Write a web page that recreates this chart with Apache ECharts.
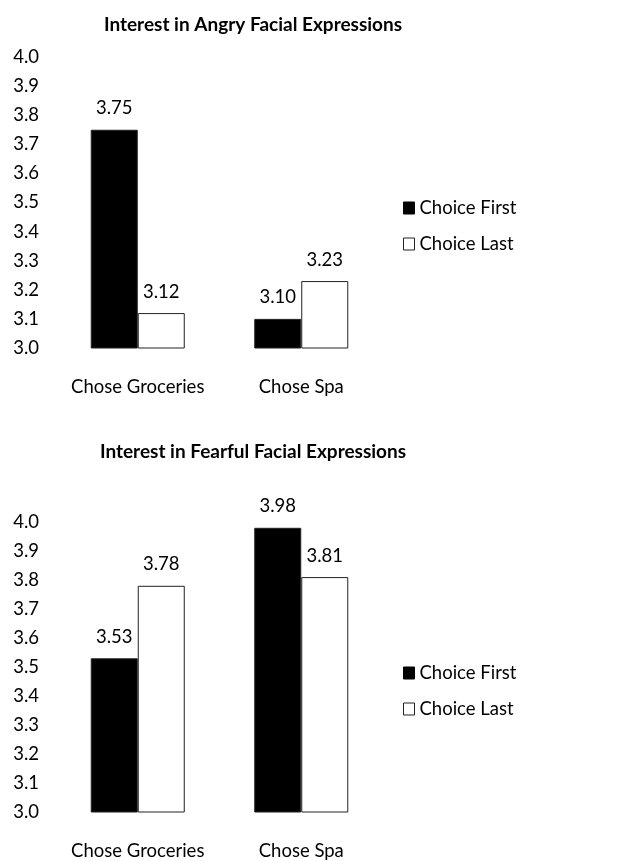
<!DOCTYPE html>
<html>
<head>
<meta charset="utf-8">
<script src="https://cdn.jsdelivr.net/npm/echarts@6/dist/echarts.min.js"></script>
<style>
html,body{margin:0;padding:0;background:#fff;}
#chart{width:625px;height:861px;}
</style>
</head>
<body>
<div id="chart"></div>
<script>
var categories = ['Chose Groceries', 'Chose Spa'];
var seriesNames = ['Choice First', 'Choice Last'];
var titles = ['Interest in Angry Facial Expressions', 'Interest in Fearful Facial Expressions'];
var angryFirst = [3.75, 3.10];
var angryLast = [3.12, 3.23];
var fearFirst = [3.53, 3.98];
var fearLast = [3.78, 3.81];
var yMin = 3.0, yMax = 4.0, yStep = 0.1;

var FONT = 'Lato';
var FS = 18.5;
var chart = echarts.init(document.getElementById('chart'), null, {renderer: 'canvas'});

var grids = [
  {left: 56, width: 327, top: 57, height: 291},
  {left: 56, width: 327, top: 522, height: 291}
];
var titleTops = [10, 437];
var legendTops = [198, 663];

function yAxis(i) {
  return {
    type: 'value', gridIndex: i, min: yMin, max: yMax, interval: yStep,
    axisLine: {show: false}, axisTick: {show: false}, splitLine: {show: false},
    axisLabel: {margin: 17, color: '#000', fontFamily: FONT, fontSize: FS,
      formatter: function (v) { return v.toFixed(1); }}
  };
}
function xAxis(i) {
  return {
    type: 'category', gridIndex: i, data: categories,
    axisLine: {show: false}, axisTick: {show: false},
    axisLabel: {interval: 0, margin: 30, color: '#000', fontFamily: FONT, fontSize: FS}
  };
}
function bar(name, data, i, fill) {
  return {
    name: name, type: 'bar', xAxisIndex: i, yAxisIndex: i, data: data,
    barGap: '0%', barCategoryGap: '42.5%',
    itemStyle: {color: fill, borderColor: '#222', borderWidth: 1},
    label: {show: true, position: 'top', distance: 12, color: '#000',
      fontFamily: FONT, fontSize: FS,
      formatter: function (p) { return p.value.toFixed(2); }}
  };
}
function legend(i) {
  return {
    orient: 'vertical', left: 403, top: legendTops[i], padding: 0,
    itemWidth: 11, itemHeight: 12, itemGap: 16,
    icon: 'rect', data: [
      {name: seriesNames[0], itemStyle: {color: '#000', borderColor: '#000', borderWidth: 1}},
      {name: seriesNames[1], itemStyle: {color: '#fff', borderColor: '#222', borderWidth: 1}}
    ],
    textStyle: {color: '#000', fontFamily: FONT, fontSize: FS, lineHeight: 20}
  };
}

chart.setOption({
  animation: false,
  backgroundColor: '#fff',
  title: titles.map(function (t, i) {
    return {text: t, left: 248, top: titleTops[i], textAlign: 'center',
      textStyle: {fontFamily: FONT, fontWeight: 'bold', fontSize: 19, color: '#000'}};
  }),
  legend: [legend(0), legend(1)],
  grid: grids,
  xAxis: [xAxis(0), xAxis(1)],
  yAxis: [yAxis(0), yAxis(1)],
  series: [
    bar(seriesNames[0], angryFirst, 0, '#000'),
    bar(seriesNames[1], angryLast, 0, '#fff'),
    bar(seriesNames[0], fearFirst, 1, '#000'),
    bar(seriesNames[1], fearLast, 1, '#fff')
  ]
});
</script>
</body>
</html>
